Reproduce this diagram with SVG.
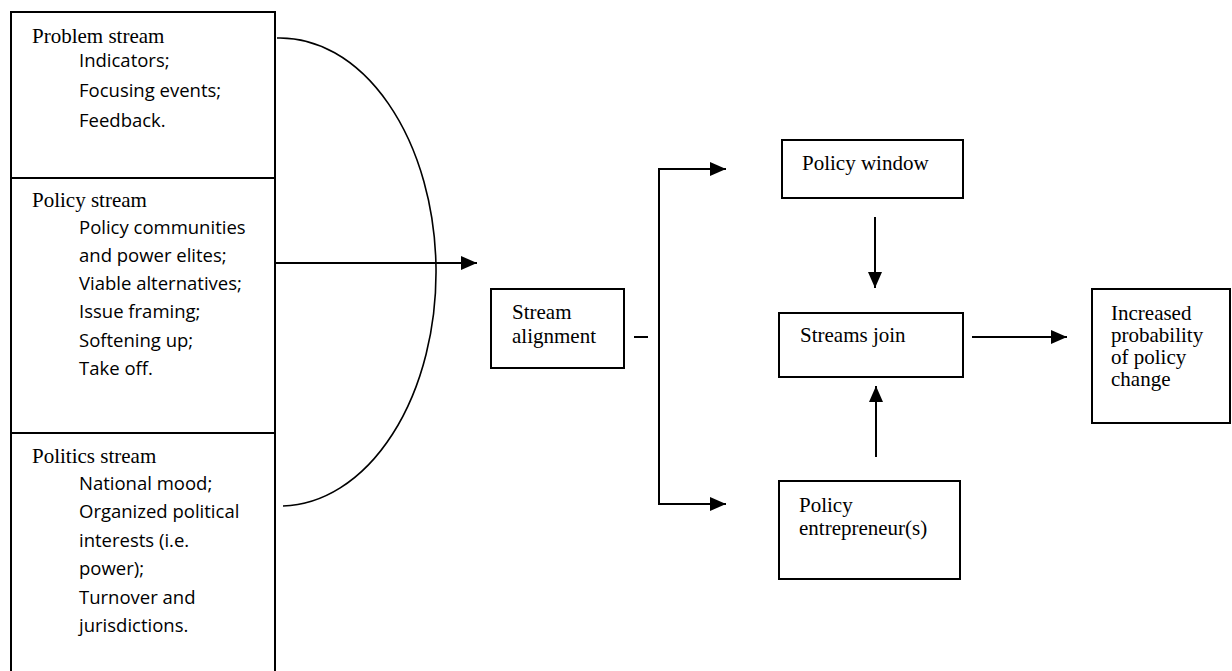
<svg xmlns="http://www.w3.org/2000/svg" width="1232" height="671" viewBox="0 0 1232 671">
<style>
.box{fill:#fff;stroke:#000;stroke-width:2}
.serif{font-family:"Liberation Serif","Times New Roman",serif;font-size:21px;fill:#000}
.sans{font-family:"Open Sans","Noto Sans",sans-serif;font-size:18.5px;fill:#000}
.ln{fill:none;stroke:#000;stroke-width:2}
.arc{fill:none;stroke:#000;stroke-width:1.6}
</style>
<defs>
<marker id="ah" markerUnits="userSpaceOnUse" markerWidth="18" markerHeight="16" refX="16" refY="7" orient="auto">
<path d="M0,0 L16,7 L0,14 Z" fill="#000"/>
</marker>
</defs>
<rect width="1232" height="671" fill="#fff"/>
<g id="streams">
<g id="problem-stream">
<rect class="box" x="11" y="12" width="264" height="166"/>
<text class="serif" x="32" y="43">Problem stream</text>
<text class="sans" x="79" y="67">Indicators;</text>
<text class="sans" x="79" y="97">Focusing events;</text>
<text class="sans" x="79" y="127">Feedback.</text>
</g>
<g id="policy-stream">
<rect class="box" x="11" y="178" width="264" height="255"/>
<text class="serif" x="32" y="207">Policy stream</text>
<text class="sans" x="79" y="234">Policy communities</text>
<text class="sans" x="79" y="262">and power elites;</text>
<text class="sans" x="79" y="290">Viable alternatives;</text>
<text class="sans" x="79" y="318">Issue framing;</text>
<text class="sans" x="79" y="347">Softening up;</text>
<text class="sans" x="79" y="375">Take off.</text>
</g>
<g id="politics-stream">
<rect class="box" x="11" y="433" width="264" height="250"/>
<text class="serif" x="32" y="463">Politics stream</text>
<text class="sans" x="79" y="490">National mood;</text>
<text class="sans" x="79" y="518">Organized political</text>
<text class="sans" x="79" y="547">interests (i.e.</text>
<text class="sans" x="79" y="575">power);</text>
<text class="sans" x="79" y="604">Turnover and</text>
<text class="sans" x="79" y="632">jurisdictions.</text>
</g>
</g>
<g id="stream-alignment">
<rect class="box" x="491" y="289" width="133" height="79"/>
<text class="serif" x="512" y="319">Stream</text>
<text class="serif" x="512" y="343">alignment</text>
</g>
<g id="policy-window">
<rect class="box" x="782" y="140" width="181" height="58"/>
<text class="serif" x="802" y="170">Policy window</text>
</g>
<g id="streams-join">
<rect class="box" x="779" y="313" width="184" height="64"/>
<text class="serif" x="800" y="342">Streams join</text>
</g>
<g id="policy-entrepreneurs">
<rect class="box" x="779" y="481" width="181" height="98"/>
<text class="serif" x="799" y="512">Policy</text>
<text class="serif" x="799" y="535">entrepreneur(s)</text>
</g>
<g id="increased-probability">
<rect class="box" x="1092" y="289" width="138" height="134"/>
<text class="serif" x="1111" y="320">Increased</text>
<text class="serif" x="1111" y="342">probability</text>
<text class="serif" x="1111" y="364">of policy</text>
<text class="serif" x="1111" y="386">change</text>
</g>
<g id="connectors">
<path class="arc" d="M277,38 A156,234 0 0 1 283,506"/>
<line class="ln" x1="276" y1="263" x2="477" y2="263" marker-end="url(#ah)"/>
<line class="ln" x1="634" y1="337" x2="648" y2="337"/>
<path class="ln" d="M726,169 L659,169 L659,504 L726,504" marker-end="url(#ah)"/>
<line class="ln" x1="659" y1="169" x2="726" y2="169" marker-end="url(#ah)"/>
<line class="ln" x1="875" y1="217" x2="875" y2="288" marker-end="url(#ah)"/>
<line class="ln" x1="876" y1="457" x2="876" y2="386" marker-end="url(#ah)"/>
<line class="ln" x1="972" y1="337" x2="1067" y2="337" marker-end="url(#ah)"/>
</g>
</svg>
